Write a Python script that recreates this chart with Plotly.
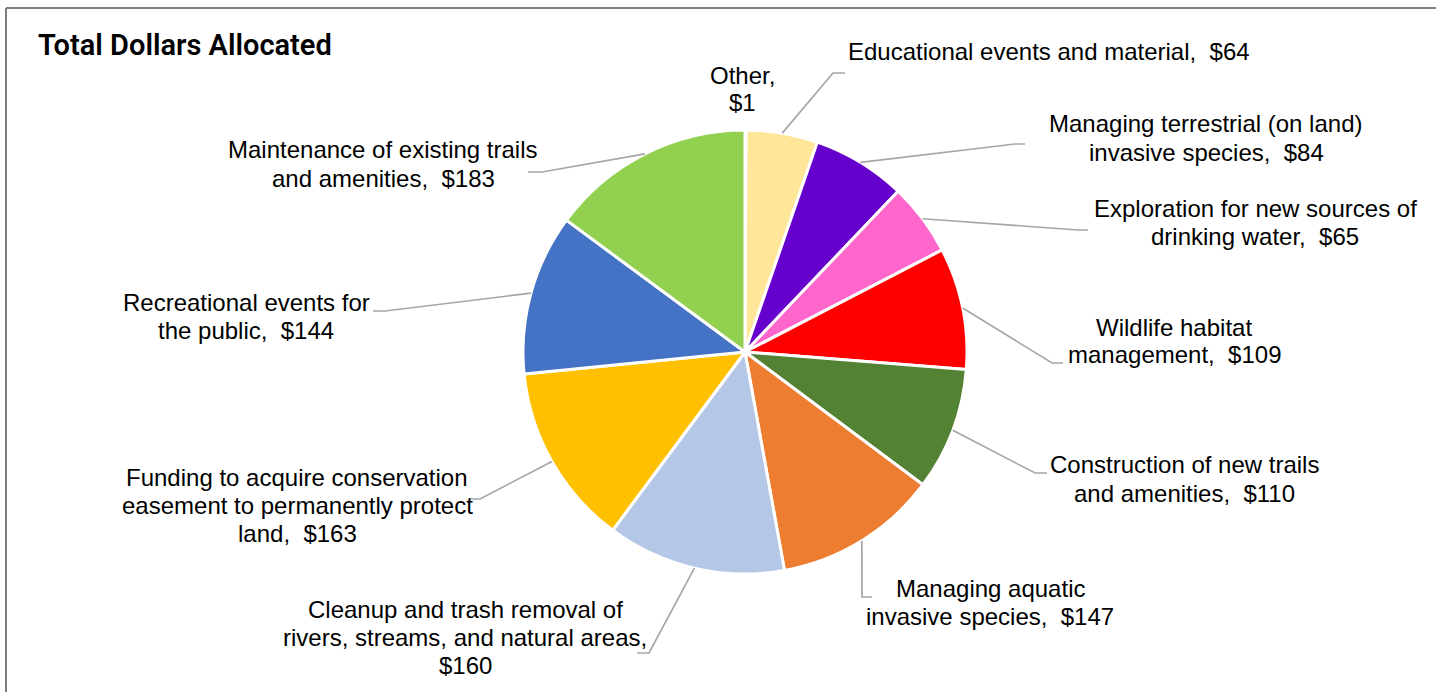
import math
import plotly.graph_objects as go

# ---------------- data ----------------
categories = [
    "Other",
    "Educational events and material",
    "Managing terrestrial (on land) invasive species",
    "Exploration for new sources of drinking water",
    "Wildlife habitat management",
    "Construction of new trails and amenities",
    "Managing aquatic invasive species",
    "Cleanup and trash removal of rivers, streams, and natural areas",
    "Funding to acquire conservation easement to permanently protect land",
    "Recreational events for the public",
    "Maintenance of existing trails and amenities",
]
values = [1, 64, 84, 65, 109, 110, 147, 160, 163, 144, 183]

label_lines = [
    ["Other,", "$1"],
    ["Educational events and material,\u00a0 $64"],
    ["Managing terrestrial (on land)", "invasive species,\u00a0 $84"],
    ["Exploration for new sources of", "drinking water,\u00a0 $65"],
    ["Wildlife habitat", "management,\u00a0 $109"],
    ["Construction of new trails", "and amenities,\u00a0 $110"],
    ["Managing aquatic", "invasive species,\u00a0 $147"],
    ["Cleanup and trash removal of", "rivers, streams, and natural areas,", "$160"],
    ["Funding to acquire conservation", "easement to permanently protect", "land,\u00a0 $163"],
    ["Recreational events for", "the public,\u00a0 $144"],
    ["Maintenance of existing trails", "and amenities,\u00a0 $183"],
]

colors = ["#FFFFFF", "#FFE699", "#6600CC", "#FF66CC", "#FF0000", "#548235",
          "#ED7D31", "#B4C7E7", "#FFC000", "#4472C4", "#92D050"]

# ---------------- layout (pixels) ----------------
W, H = 1436, 692
CX, CY, R = 745, 352, 222
LINE_H = 28
# label centre x and first-line centre y (px)
label_pos = [(743, 75), (1049, 51), (1206, 124), (1255, 208), (1174, 327),
             (1184, 465), (990, 588), (465, 609), (297, 477), (246, 302), (383, 150)]
# leader-line elbow/end points (px)
leader_pts = [None, [(833, 73), (845, 73)], [(1015, 144), (1025, 144)],
              [(1078, 230), (1088, 230)], [(1052, 363), (1063, 363)],
              [(1035, 473), (1047, 473)], [(862, 597), (872, 597)],
              [(649, 653), (637, 653)], [(480, 499), (470, 499)],
              [(385, 311), (373, 311)], [(542, 172), (528, 172)]]


def px(x, y):
    return x / W, 1 - y / H


fig = go.Figure()
fig.add_trace(go.Pie(
    labels=categories, values=values, sort=False, direction="clockwise",
    rotation=0, textinfo="none", showlegend=False,
    marker=dict(colors=colors, line=dict(color="white", width=3)),
    domain=dict(x=[(CX - R) / W, (CX + R) / W], y=[1 - (CY + R) / H, 1 - (CY - R) / H]),
))

total = sum(values)
shapes = []
annotations = []
cum = 0
for i, v in enumerate(values):
    mid = (cum + v / 2) / total * 2 * math.pi
    cum += v
    sx = CX + R * math.sin(mid)
    sy = CY - R * math.cos(mid)
    if leader_pts[i]:
        pts = [(sx, sy)] + leader_pts[i]
        path = "M " + " L ".join(f"{px(x, y)[0]},{px(x, y)[1]}" for x, y in pts)
        shapes.append(dict(type="path", xref="paper", yref="paper", path=path,
                           line=dict(color="#A6A6A6", width=1.7)))
    lx0, ly0 = label_pos[i]
    for k, line in enumerate(label_lines[i]):
        lx, ly = px(lx0, ly0 + k * LINE_H)
        annotations.append(dict(
            x=lx, y=ly, xref="paper", yref="paper", showarrow=False,
            text=line, align="center", xanchor="center", yanchor="middle",
            font=dict(family="Arial, Liberation Sans, sans-serif", size=24, color="#000000"),
        ))

annotations.append(dict(
    x=36 / W, y=px(0, 45)[1], xref="paper", yref="paper", showarrow=False,
    text="Total Dollars Allocated", xanchor="left", yanchor="middle",
    font=dict(family="Roboto, sans-serif", size=29, color="#000000", weight=600),
))

# chart border (top and left edges)
shapes.append(dict(type="line", xref="paper", yref="paper",
                   x0=px(6, 8)[0], y0=px(6, 8)[1], x1=1, y1=px(6, 8)[1],
                   line=dict(color="#7F7F7F", width=2)))
shapes.append(dict(type="line", xref="paper", yref="paper",
                   x0=px(6, 8)[0], y0=px(6, 8)[1], x1=px(6, 8)[0], y1=0,
                   line=dict(color="#7F7F7F", width=2)))

fig.update_layout(
    width=W, height=H, margin=dict(l=0, r=0, t=0, b=0),
    paper_bgcolor="white", plot_bgcolor="white",
    shapes=shapes, annotations=annotations,
)
fig.write_html("out.html", config={"displayModeBar": False},
               post_script="document.body.style.margin='0';document.body.style.overflow='hidden';")
